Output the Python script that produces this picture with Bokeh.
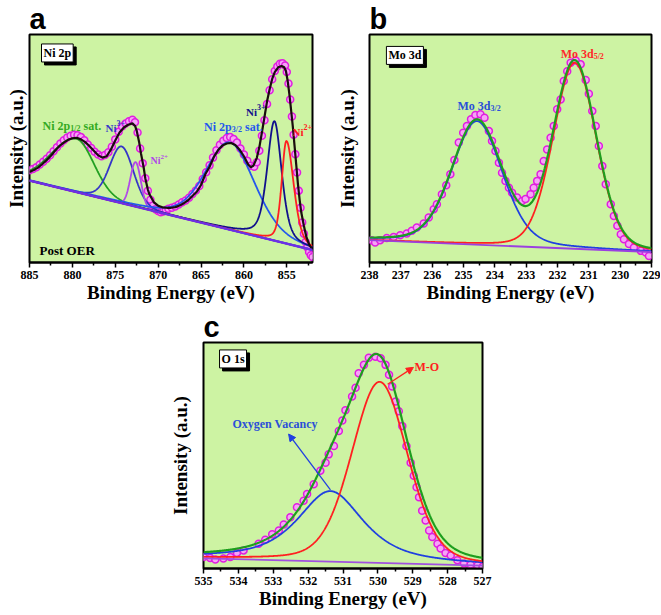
import numpy as np
from bokeh.plotting import figure
from bokeh.models import Range1d, FixedTicker, Label, Arrow, NormalHead
from bokeh.layouts import column, row
from bokeh.embed import file_html
from bokeh.resources import INLINE

# ---------------- Panel a : Ni 2p ----------------
a_ticks = [885, 880, 875, 870, 865, 860, 855]
a_minor = [882.5, 877.5, 872.5, 867.5, 862.5, 857.5, 852.5]
a_pts_x = [885.0, 884.6, 884.2, 883.8, 883.4, 883.0, 882.6, 882.2, 881.8, 881.4, 881.0, 880.6,
           880.2, 879.8, 879.4, 879.0, 878.6, 878.2, 877.8, 877.4, 877.0, 876.6, 876.2, 875.8,
           875.4, 875.0, 874.6, 874.2, 873.8, 873.4, 873.0, 872.7, 872.4, 872.1, 871.8, 871.5,
           871.2, 870.9, 870.6, 870.3, 870.0, 869.7, 869.4, 869.1, 868.8, 868.4, 868.0, 867.6,
           867.2, 866.8, 866.4, 866.0, 865.6, 865.2, 864.8, 864.4, 864.0, 863.6, 863.2, 862.8,
           862.4, 862.0, 861.6, 861.2, 860.8, 860.4, 860.0, 859.6, 859.2, 858.8, 858.5, 858.2,
           857.9, 857.6, 857.3, 857.0, 856.7, 856.4, 856.1, 855.8, 855.5, 855.2, 855.0, 854.8,
           854.6, 854.4, 854.2, 854.0, 853.8, 853.6, 853.4, 853.2, 853.0, 852.8, 852.6, 852.4,
           852.2, 852.0]
a_pts_y = [40.5, 41.0, 41.8, 43.0, 44.2, 45.5, 47.0, 48.8, 50.5, 52.2, 53.6, 54.8,
           55.6, 56.0, 55.8, 55.0, 53.6, 51.8, 50.2, 48.6, 47.4, 46.6, 47.2, 48.4,
           50.8, 54.0, 57.4, 59.6, 61.0, 62.0, 62.6, 61.5, 57.0, 50.0, 43.5, 37.0,
           31.5, 27.5, 25.0, 23.4, 22.6, 22.0, 22.4, 23.0, 23.6, 24.0, 24.6, 25.4,
           26.4, 27.2, 28.4, 30.0, 31.6, 33.6, 36.6, 39.6, 42.6, 46.0, 49.2, 51.6,
           53.4, 54.6, 55.0, 54.2, 52.6, 50.0, 47.4, 44.6, 42.4, 42.0, 44.0, 49.0,
           55.6, 62.4, 69.5, 75.5, 80.4, 84.0, 86.0, 87.2, 87.4, 86.4, 83.6, 78.5,
           71.5, 64.0, 56.0, 47.5, 39.5, 31.5, 24.0, 17.5, 12.6, 9.0, 6.6, 4.6,
           3.2, 2.4]
a_fit_x = [885.0, 884.5, 884.0, 883.5, 883.0, 882.5, 882.0, 881.5, 881.0, 880.5, 880.0, 879.5,
           879.0, 878.5, 878.0, 877.5, 877.0, 876.5, 876.0, 875.5, 875.0, 874.5, 874.0, 873.5,
           873.0, 872.7, 872.5, 872.2, 872.0, 871.7, 871.5, 871.2, 871.0, 870.5, 870.0, 869.5,
           869.0, 868.5, 868.0, 867.5, 867.0, 866.5, 866.0, 865.5, 865.0, 864.5, 864.0, 863.5,
           863.0, 862.5, 862.0, 861.5, 861.0, 860.5, 860.0, 859.5, 859.2, 858.9, 858.5, 858.2,
           857.9, 857.6, 857.3, 857.0, 856.7, 856.4, 856.0, 855.6, 855.3, 855.1, 854.9, 854.7,
           854.5, 854.3, 854.1, 853.9, 853.7, 853.5, 853.3, 853.0, 852.7, 852.4, 852.0]
a_fit_y = [39.7, 40.6, 41.6, 43.2, 44.9, 46.8, 49.1, 51.1, 52.6, 53.8, 54.5, 54.7,
           54.0, 52.8, 51.0, 49.0, 47.0, 46.0, 46.6, 49.6, 53.5, 57.0, 59.2, 60.4,
           61.0, 60.0, 57.8, 52.5, 47.8, 42.0, 37.0, 32.0, 29.8, 26.4, 24.9, 24.2,
           24.0, 24.0, 24.3, 25.0, 26.0, 27.3, 29.2, 31.0, 34.0, 38.7, 42.0, 46.3,
           49.3, 51.3, 52.2, 52.4, 51.5, 49.5, 46.6, 43.0, 41.8, 42.4, 45.8, 50.5,
           57.0, 63.8, 70.7, 76.0, 80.5, 83.5, 85.6, 86.2, 85.6, 84.0, 79.8, 74.0,
           67.0, 59.8, 51.5, 43.0, 34.5, 27.5, 21.8, 16.0, 11.0, 8.0, 5.5]
a_bg_x = [852.0, 885.0]
a_bg_y = [5.5, 35.9]
a_center = [879.5, 874.26, 872.63, 861.6, 856.44, 855.04]
a_height = [23.4, 24.9, 19.5, 38.3, 52.4, 45.0]
a_fwhm_hi = [7.0, 3.3, 1.44, 6.8, 2.0, 1.3]
a_fwhm_lo = [4.8, 3.3, 1.44, 6.8, 2.0, 2.0]
a_eta = [0.1, 0.15, 0.0, 0.3, 0.5, 0.4]

# ---------------- Panel b : Mo 3d ----------------
b_ticks = [238, 237, 236, 235, 234, 233, 232, 231, 230, 229]
b_minor = [237.5, 236.5, 235.5, 234.5, 233.5, 232.5, 231.5, 230.5, 229.5]
b_pts_x = [237.93, 237.82, 237.66, 237.45, 237.23, 237.02, 236.81, 236.65, 236.49, 236.27,
           236.11, 235.95, 235.85, 235.69, 235.55, 235.42, 235.29, 235.15, 235.01, 234.89,
           234.76, 234.62, 234.46, 234.33, 234.19, 234.09, 233.98, 233.87, 233.77, 233.66,
           233.55, 233.45, 233.29, 233.13, 233.02, 232.86, 232.76, 232.65, 232.54, 232.44,
           232.33, 232.22, 232.12, 232.01, 231.90, 231.80, 231.69, 231.58, 231.42, 231.26,
           231.10, 231.00, 230.89, 230.78, 230.68, 230.57, 230.46, 230.30, 230.20, 230.09,
           229.98, 229.88, 229.72, 229.56, 229.34, 229.18, 229.08]
b_pts_y = [9.8, 8.8, 9.8, 10.7, 11.2, 12.0, 12.7, 13.9, 15.3, 17.1,
           19.7, 23.4, 25.5, 29.9, 33.9, 38.7, 45.0, 52.6, 56.9, 59.9,
           62.8, 64.7, 65.0, 63.5, 57.7, 53.3, 48.9, 43.8, 39.4, 35.8,
           32.8, 30.6, 28.5, 27.0, 27.8, 29.9, 32.8, 35.8, 38.7, 44.5,
           49.6, 54.7, 59.9, 67.2, 71.5, 79.6, 83.9, 87.6, 88.6, 86.9,
           80.0, 74.0, 66.4, 59.9, 51.1, 42.3, 34.3, 25.6, 20.4, 16.1,
           12.4, 10.2, 8.1, 6.6, 5.1, 4.4, 2.9]
b_bg_x = [229.0, 238.0]
b_bg_y = [4.6, 9.8]
b_center = [234.57, 231.45]
b_height = [54.2, 81.6]
b_fwhm = [1.9, 1.62]
b_eta = [0.25, 0.15]

# ---------------- Panel c : O 1s ----------------
c_ticks = [535, 534, 533, 532, 531, 530, 529, 528, 527]
c_minor = [534.5, 533.5, 532.5, 531.5, 530.5, 529.5, 528.5, 527.5]
c_pts_x = [535.00, 534.81, 534.66, 534.43, 534.23, 534.04, 533.85, 533.42, 533.23, 533.03,
           532.84, 532.70, 532.51, 532.32, 532.13, 532.03, 531.84, 531.65, 531.50, 531.41,
           531.26, 531.12, 531.02, 530.93, 530.74, 530.64, 530.55, 530.40, 530.26, 530.07,
           529.92, 529.78, 529.68, 529.59, 529.49, 529.40, 529.30, 529.18, 529.06, 528.97,
           528.89, 528.82, 528.73, 528.63, 528.53, 528.44, 528.29, 528.20, 528.06, 527.91,
           527.72, 527.53, 527.34, 527.14, 527.00]
c_pts_y = [5.1, 4.7, 3.95, 4.4, 5.1, 6.9, 8.0, 11.0, 12.7, 15.1,
           16.8, 19.5, 22.7, 27.1, 30.0, 33.0, 37.3, 43.2, 46.8, 50.5,
           54.2, 60.8, 65.5, 70.0, 76.1, 80.0, 86.4, 90.1, 93.3, 93.7,
           93.0, 90.1, 85.7, 80.5, 73.9, 69.6, 63.0, 54.2, 46.8, 41.0,
           35.9, 31.5, 25.6, 21.2, 16.8, 13.9, 11.0, 8.8, 6.9, 5.8,
           3.6, 2.2, 1.8, 1.45, 0.7]
c_bg_x = [527.0, 535.0]
c_bg_y = [1.3, 4.5]
c_center = [531.36, 529.95]
c_height = [31.2, 80.1]
c_fwhm = [2.25, 1.9]
c_eta = [0.75, 0.25]

GREEN_BG = "#cdf3a3"
SERIF = "Liberation Serif"
SANS = "Liberation Sans"


def pv(x, c, h, fw_hi, fw_lo, eta):
    w = np.where(x >= c, fw_hi, fw_lo)
    t = ((x - c) / w) ** 2
    return h * ((1 - eta) * np.exp(-4 * np.log(2) * t) + eta / (1 + 4 * t))


def make_fig(w, h, xr, ml, mr, mt, mb, ticks, minor, letter, ystand):
    p = figure(width=w, height=h, x_range=Range1d(xr[0], xr[1]), y_range=Range1d(0, 100),
               output_backend="svg", toolbar_location=None,
               min_border_left=ml, min_border_right=mr, min_border_top=mt, min_border_bottom=mb)
    p.title.text = letter
    p.title.text_font = SANS
    p.title.text_font_size = "29px"
    p.title.text_font_style = "bold"
    p.title.text_color = "black"
    p.title.align = "left"
    p.title.standoff = 0
    p.title.offset = 0
    p.background_fill_color = GREEN_BG
    p.border_fill_color = "white"
    p.outline_line_color = "black"
    p.outline_line_width = 2
    p.outline_line_alpha = 1
    p.grid.visible = False
    # y axis: only the label
    ay = p.yaxis[0]
    ay.ticker = FixedTicker(ticks=[])
    ay.major_tick_in = 0
    ay.major_tick_out = 0
    ay.minor_tick_in = 0
    ay.minor_tick_out = 0
    ay.major_label_standoff = 0
    ay.axis_line_color = None
    ay.axis_label = "Intensity (a.u.)"
    ay.axis_label_text_font = SERIF
    ay.axis_label_text_font_style = "bold"
    ay.axis_label_text_font_size = "19px"
    ay.axis_label_text_color = "black"
    ay.axis_label_standoff = ystand
    # x axis
    ax = p.xaxis[0]
    ax.ticker = FixedTicker(ticks=ticks, minor_ticks=minor)
    ax.major_label_text_font = SERIF
    ax.major_label_text_font_style = "bold"
    ax.major_label_text_font_size = "12px"
    ax.major_label_text_color = "black"
    ax.major_label_standoff = 3
    ax.major_tick_in = 0
    ax.major_tick_out = 5
    ax.minor_tick_in = 0
    ax.minor_tick_out = 3
    ax.major_tick_line_width = 1.5
    ax.minor_tick_line_width = 1.5
    ax.axis_line_width = 2
    ax.axis_label = "Binding Energy (eV)"
    ax.axis_label_text_font = SERIF
    ax.axis_label_text_font_style = "bold"
    ax.axis_label_text_font_size = "19px"
    ax.axis_label_text_color = "black"
    ax.axis_label_standoff = 0
    return p


def lab(p, x, y, text, size, color="black", xo=0, yo=0):
    p.add_layout(Label(x=x, y=y, text=text, text_font=SERIF, text_font_style="bold",
                       text_font_size=f"{size}px", text_color=color, text_align="left",
                       text_baseline="alphabetic", x_offset=xo, y_offset=yo))


def boxlab(p, x, y, text):
    p.add_layout(Label(x=x, y=y, text=text, text_font=SERIF, text_font_style="bold",
                       text_font_size="12px", text_color="black", text_baseline="middle",
                       background_fill_color="black", border_line_color="black",
                       padding=2, x_offset=3, y_offset=-3))
    p.add_layout(Label(x=x, y=y, text=text, text_font=SERIF, text_font_style="bold",
                       text_font_size="12px", text_color="black", text_baseline="middle",
                       background_fill_color="white", border_line_color="black",
                       border_line_width=1, padding=2))


def points(p, xs, ys):
    p.scatter(xs, ys, size=7, marker="circle", fill_color="#f6a4f6",
              line_color="#e01ee0", line_width=1.5)


# ---- figure a ----
pa = make_fig(330, 308, (885, 852), 29, 18, 33, 46, a_ticks, a_minor, "a", 3)
points(pa, a_pts_x, a_pts_y)
xa = np.linspace(852, 885, 800)
bga = np.interp(xa, a_bg_x, a_bg_y)
a_colors = ["#22a022", "#3535c8", "#b048e8", "#2458ec", "#10108c", "#ff2020"]
for i in range(len(a_center)):
    ya = bga + pv(xa, a_center[i], a_height[i], a_fwhm_hi[i], a_fwhm_lo[i], a_eta[i])
    pa.line(xa, ya, line_color=a_colors[i], line_width=1.8)
pa.line(a_fit_x, a_fit_y, line_color="#1a0d0d", line_width=2.2)
pa.line(a_bg_x, a_bg_y, line_color="#6a30e6", line_width=2.4)

boxlab(pa, 883.6, 91.9, "Ni 2p")
lab(pa, 883.83, 5.24, "Post OER", 13)
lab(pa, 883.48, 60.04, "Ni 2p", 12, color="#33aa22")
lab(pa, 883.48, 60.04, "1/2", 8, color="#33aa22", xo=27.7, yo=-3)
lab(pa, 883.48, 60.04, "sat.", 12, color="#33aa22", xo=41)
lab(pa, 876.14, 59.17, "Ni", 11, color="#3535c8")
lab(pa, 876.14, 59.17, "3+", 8, color="#3535c8", xo=11, yo=5)
lab(pa, 870.89, 44.54, "Ni", 10, color="#b048e8")
lab(pa, 870.89, 44.54, "2+", 7, color="#b048e8", xo=10, yo=4)
lab(pa, 864.65, 59.61, "Ni 2p", 12, color="#2458ec")
lab(pa, 864.65, 59.61, "3/2", 8, color="#2458ec", xo=27.7, yo=-3)
lab(pa, 864.65, 59.61, "sat.", 12, color="#2458ec", xo=41)
lab(pa, 859.76, 66.16, "Ni", 11, color="#10108c")
lab(pa, 859.76, 66.16, "3+", 8, color="#10108c", xo=11, yo=5)
lab(pa, 854.33, 57.42, "Ni", 11, color="#ff2020")
lab(pa, 854.33, 57.42, "2+", 8, color="#ff2020", xo=11, yo=5)

# ---- figure b ----
pb = make_fig(330, 308, (238, 229), 39, 9, 33, 46, b_ticks, b_minor, "b", 12)
points(pb, b_pts_x, b_pts_y)
xb = np.linspace(229, 238, 600)
bgb = np.interp(xb, b_bg_x, b_bg_y)
b_colors = ["#2040e0", "#ff2020"]
tot_b = bgb.copy()
comps_b = []
for i in range(len(b_center)):
    comp = pv(xb, b_center[i], b_height[i], b_fwhm[i], b_fwhm[i], b_eta[i])
    tot_b = tot_b + comp
    comps_b.append(bgb + comp)
for i, yb in enumerate(comps_b):
    pb.line(xb, yb, line_color=b_colors[i], line_width=1.8)
pb.line(xb, tot_b, line_color="#1e9e1e", line_width=2.2)
pb.line(b_bg_x, b_bg_y, line_color="#9a40e0", line_width=1.8)

boxlab(pb, 237.46, 90.83, "Mo 3d")
lab(pb, 235.19, 68.8, "Mo 3d", 12, color="#2a4fd8")
lab(pb, 235.19, 68.8, "3/2", 8, color="#2a4fd8", xo=33, yo=-3)
lab(pb, 231.90, 91.5, "Mo 3d", 12, color="#ff2a2a")
lab(pb, 231.90, 91.5, "5/2", 8, color="#ff2a2a", xo=33, yo=-3)

# ---- figure c ----
pc = make_fig(660, 306, (535, 527), 203, 178, 33, 46, c_ticks, c_minor, "c", 13)
points(pc, c_pts_x, c_pts_y)
xc = np.linspace(527, 535, 600)
bgc = np.interp(xc, c_bg_x, c_bg_y)
c_colors = ["#2040e0", "#ff2020"]
tot_c = bgc.copy()
comps_c = []
for i in range(len(c_center)):
    comp = pv(xc, c_center[i], c_height[i], c_fwhm[i], c_fwhm[i], c_eta[i])
    tot_c = tot_c + comp
    comps_c.append(bgc + comp)
for i, yc in enumerate(comps_c):
    pc.line(xc, yc, line_color=c_colors[i], line_width=1.8)
pc.line(xc, tot_c, line_color="#1e9e1e", line_width=2.2)
pc.line(c_bg_x, c_bg_y, line_color="#a050e0", line_width=1.8)

boxlab(pc, 534.54, 92.73, "O 1s")
lab(pc, 534.17, 63.88, "Oxygen Vacancy", 12, color="#2a4fd8")
lab(pc, 528.95, 88.99, "M-O", 12, color="#ff2020")
pc.add_layout(Arrow(end=NormalHead(size=7, fill_color="#2040e0", line_color="#2040e0"),
                    x_start=531.36, y_start=34.8, x_end=532.56, y_end=59.5,
                    line_color="#2040e0", line_width=1.3))
pc.add_layout(Arrow(end=NormalHead(size=7, fill_color="#ff2020", line_color="#ff2020"),
                    x_start=529.72, y_start=81.5, x_end=528.98, y_end=89.0,
                    line_color="#ff2020", line_width=1.3))

layout = column(row(pa, pb), pc)
open("out.html", "w").write(file_html(layout, INLINE))
